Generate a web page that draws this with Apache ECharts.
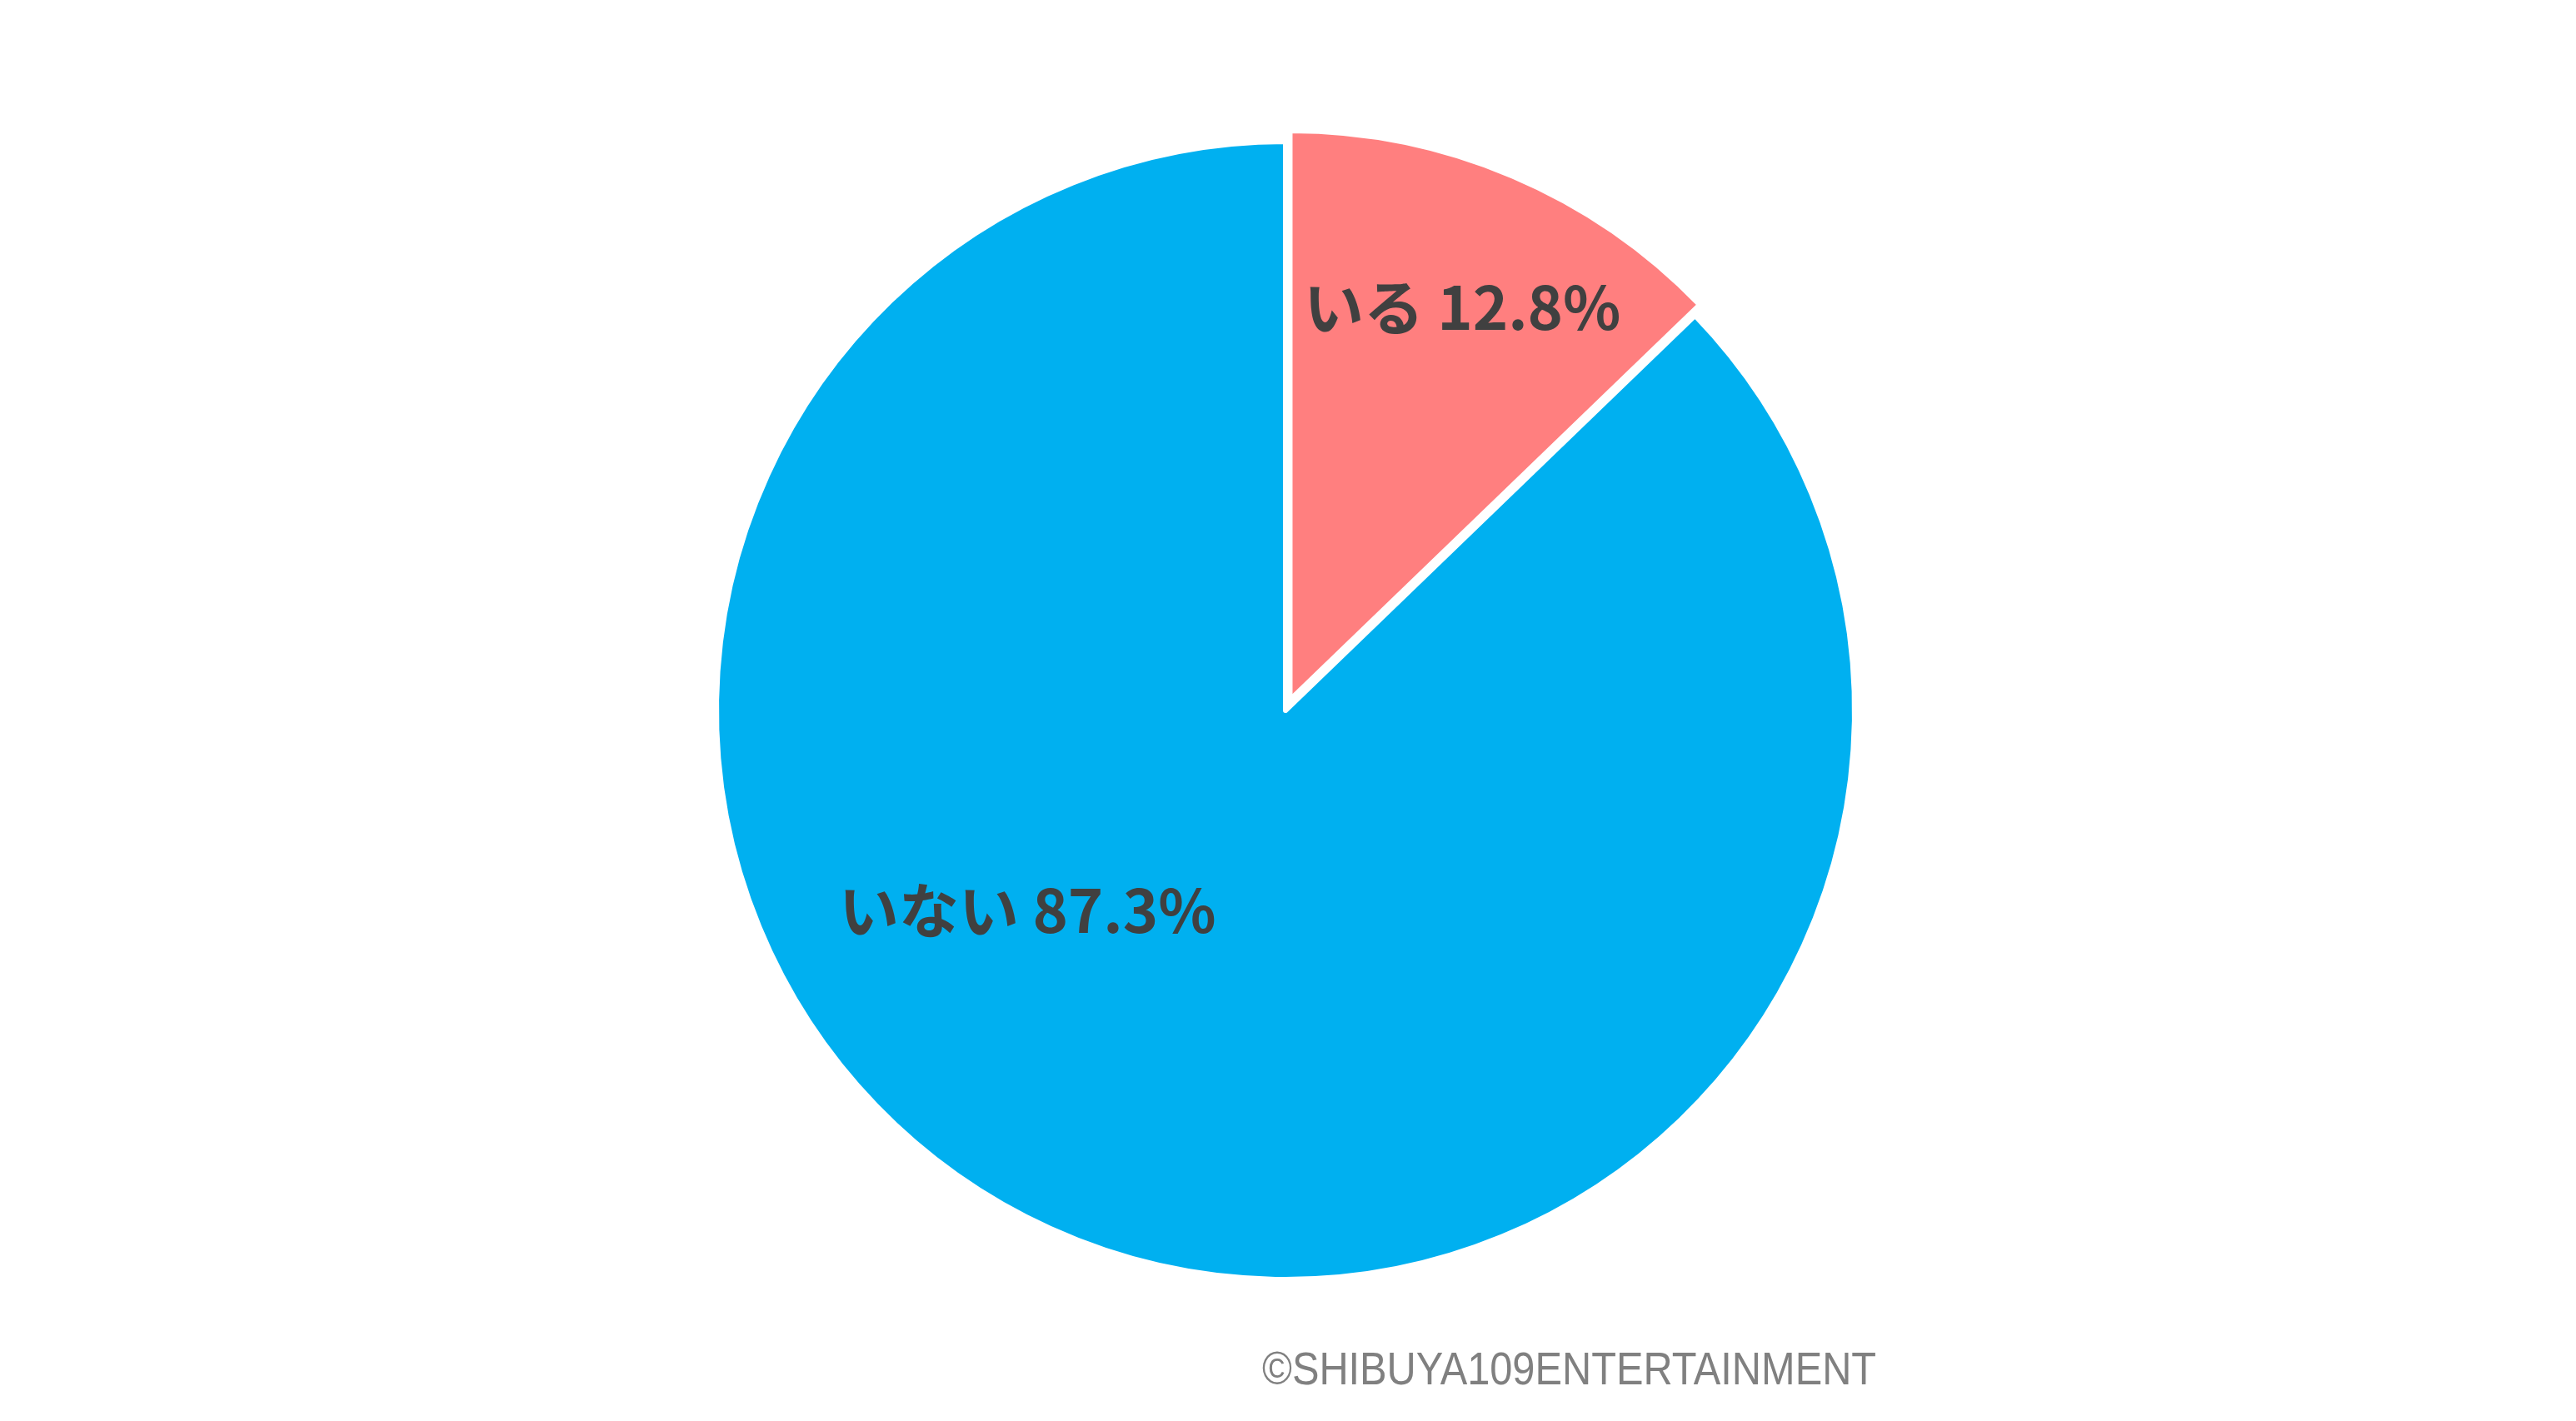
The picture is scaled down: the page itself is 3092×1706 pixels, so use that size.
<!DOCTYPE html>
<html><head><meta charset="utf-8">
<script src="https://cdn.jsdelivr.net/npm/echarts@6/dist/echarts.min.js"></script>
<style>html,body{margin:0;padding:0;background:#fff}#c{width:3092px;height:1706px}</style>
</head><body><div id="c"></div>
<script>
const categories = ['いる', 'いない'];
const values = [12.8, 87.3];
const colors = ['#FF7F7F', '#00B0F0'];
const credit = '©SHIBUYA109ENTERTAINMENT';

// styling: which slice is pulled out, and label nudges from the default inside position
const explodedIndex = 0;
const labelOffsets = [[72, -154], [-175, -77]];

const center = [1543, 853];
const explode = 14;
const total = values.reduce((a, b) => a + b, 0);
const before = values.slice(0, explodedIndex).reduce((a, b) => a + b, 0);
const midAng = (before + values[explodedIndex] / 2) / total * 2 * Math.PI; // clockwise from 12 o'clock
const explodedCenter = [center[0] + explode * Math.sin(midAng), center[1] - explode * Math.cos(midAng)];

const baseLabel = {
  show: true, position: 'inside',
  formatter: p => p.name + ' ' + p.value.toFixed(1) + '%',
  fontFamily: '"Noto Sans CJK JP", sans-serif', fontSize: 72, fontWeight: 'bold', color: '#404040'
};

function makeSeries(showIdx, c) {
  return {
    type: 'pie',
    center: c,
    radius: [0, 683],
    startAngle: 90,
    clockwise: true,
    silent: true,
    itemStyle: {borderColor: '#ffffff', borderWidth: 6},
    label: baseLabel,
    labelLine: {show: false},
    emphasis: {disabled: true},
    data: categories.map((name, i) => {
      const shown = showIdx(i);
      return {
        name, value: values[i],
        itemStyle: shown ? {color: colors[i]} : {color: 'rgba(0,0,0,0)', borderWidth: 0},
        label: shown ? {offset: labelOffsets[i]} : {show: false}
      };
    })
  };
}

const chart = echarts.init(document.getElementById('c'), null, {renderer: 'canvas'});
chart.setOption({
  backgroundColor: '#ffffff',
  animation: false,
  graphic: [{
    type: 'text',
    x: 1515, y: 1647,
    scaleX: 0.87,
    style: {
      text: credit,
      font: 'normal 56px "Liberation Sans", Arial, sans-serif',
      fill: '#808080',
      textAlign: 'left',
      textVerticalAlign: 'middle'
    }
  }],
  series: [
    makeSeries(i => i !== explodedIndex, center),
    makeSeries(i => i === explodedIndex, explodedCenter)
  ]
});
</script></body></html>
